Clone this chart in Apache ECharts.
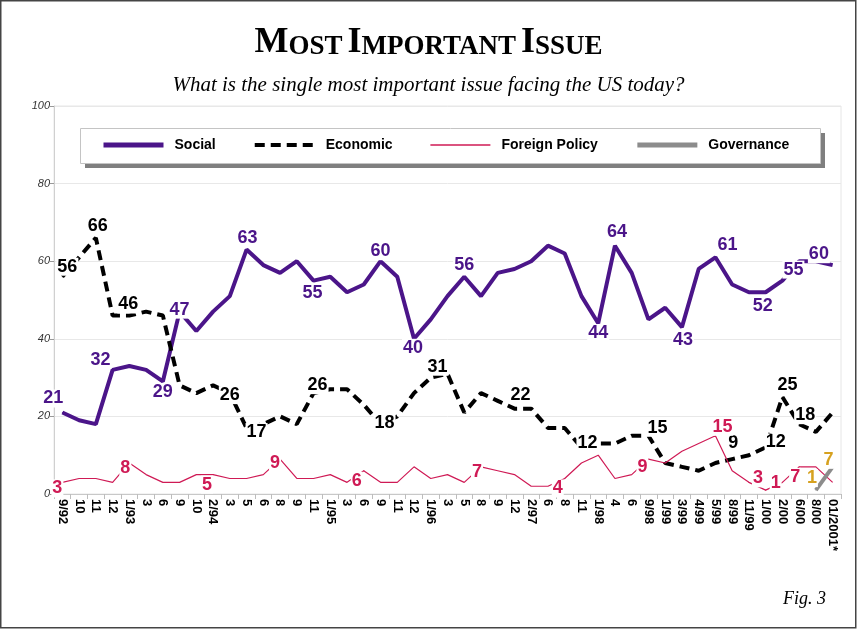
<!DOCTYPE html>
<html>
<head>
<meta charset="utf-8">
<script src="https://cdn.jsdelivr.net/npm/echarts@6/dist/echarts.min.js"></script>
<style>
  html, body { margin: 0; padding: 0; background: #fff; }
  #chart { width: 857px; height: 629px; }
</style>
</head>
<body>
<div id="chart"></div>
<script>
// Survey dates (month/year) along the horizontal axis
const categories = ['9/92','10','11','12','1/93','3','6','9','10','2/94','3','5','6','8','9','11',
  '1/95','3','6','9','11','12','1/96','3','5','8','9','12','2/97','6','8','11','1/98','4','6',
  '9/98','1/99','3/99','4/99','5/99','8/99','11/99','1/00','2/00','6/00','8/00','01/2001*'];

// Percent naming each kind of issue as the most important
const social = [21,19,18,32,33,32,29,47,42,47,51,63,59,57,60,55,56,52,54,60,56,40,45,51,56,51,57,58,
  60,64,62,51,44,64,57,45,48,43,58,61,54,52,52,55,60,60,59];
const economic = [56,61,66,46,46,47,46,28,26,28,26,17,18,20,18,26,27,27,23,18,20,26,30,31,21,26,24,22,
  22,17,17,12,13,13,15,15,8,7,6,8,9,10,12,25,18,16,21];
const foreignPolicy = [3,4,4,3,8,5,3,3,5,5,4,4,5,9,4,4,5,3,6,3,3,7,4,5,3,7,6,5,2,2,4,8,10,4,5,9,8,11,13,
  15,6,3,1,3,7,7,3];
const governance = [null,null,null,null,null,null,null,null,null,null,null,null,null,null,null,null,
  null,null,null,null,null,null,null,null,null,null,null,null,null,null,null,null,null,null,null,
  null,null,null,null,null,null,null,null,null,null,1,7];

// Which points carry a value label (index in the series)
const socialLabelIdx = [0,3,6,7,11,15,19,21,24,32,33,37,39,42,43,45];
const economicLabelIdx = [0,2,4,10,11,15,19,23,27,31,35,40,42,43,44];
const foreignLabelIdx = [0,4,9,13,18,25,30,35,39,41,42,44];
const governanceLabelIdx = [45,46];

// Label placement relative to its point, in pixels
const labelOffsets = {
  social: [[-9,-14],[-12,-10],[0,11],[0,-2],[1,-12],[-1,12],[0,-10],[-1,9],[0,-12],[0,10],[2,-14],
    [1,13],[12,-12],[-3,14],[11,-11],[3,-7]],
  economic: [[5,-10],[2,-12],[-1,-11],[0,2],[10,4],[4,-8],[4,-1],[-10,-7],[6,-14],[6,-4],[9,-8],
    [1,-16],[10,-5],[5,-12],[6,-9]],
  foreign: [[-5,6],[-4,5],[-6,10],[-5,4],[-7,10],[-4,5],[-7,10],[-6,8],[7,-9],[9,-4],[10,-7],[-4,10]],
  governance: [[-4,-12],[-4,-7]]
};

const FONT = '"Liberation Sans", Arial, Helvetica, sans-serif';
const SERIF = '"Liberation Serif", "Times New Roman", Times, serif';

function withLabels(values, idxList, offsets, color) {
  return values.map(function (v, i) {
    const k = idxList.indexOf(i);
    if (k < 0 || v === null) return v;
    return {
      value: v,
      symbol: 'circle',
      symbolSize: 1,
      label: {
        show: true,
        position: 'inside',
        offset: offsets[k],
        color: color,
        fontFamily: FONT,
        fontSize: 18,
        fontWeight: 'bold',
        backgroundColor: '#fff',
        padding: [0, 1]
      }
    };
  });
}

const PURPLE = '#4b1589';
const CRIMSON = '#cf1a55';
const GOLD = '#d6a11f';
const GREY = '#8c8c8c';

const chart = echarts.init(document.getElementById('chart'), null, { renderer: 'canvas' });

chart.setOption({
  animation: false,
  backgroundColor: '#fff',
  title: [
    {
      text: '{b|M}{s|OST} {b|I}{s|MPORTANT} {b|I}{s|SSUE}',
      left: 'center',
      top: 21,
      padding: 0,
      textStyle: {
        rich: {
          b: { fontFamily: SERIF, fontWeight: 'bold', fontSize: 36, color: '#000', verticalAlign: 'bottom', lineHeight: 40 },
          s: { fontFamily: SERIF, fontWeight: 'bold', fontSize: 27, color: '#000', verticalAlign: 'bottom', lineHeight: 40 }
        }
      }
    },
    {
      text: 'What is the single most important issue facing the US today?',
      left: 'center',
      top: 75,
      padding: 0,
      textStyle: { fontFamily: SERIF, fontStyle: 'italic', fontWeight: 'normal', fontSize: 21, color: '#000' }
    }
  ],
  legend: {
    left: 80,
    top: 128,
    z: 10,
    orient: 'horizontal',
    padding: [10, 26, 10, 21],
    itemGap: 37,
    itemWidth: 60,
    itemHeight: 14,
    itemStyle: { opacity: 0 },
    textStyle: { fontFamily: FONT, fontSize: 14, fontWeight: 'bold', color: '#000', padding: [0, 0, 0, 6] },
    data: [
      { name: 'Social', lineStyle: { width: 5 } },
      { name: 'Economic', lineStyle: { width: 4 } },
      { name: 'Foreign Policy', lineStyle: { width: 1.5 } },
      { name: 'Governance', lineStyle: { width: 5 } }
    ]
  },
  grid: {
    left: 54,
    right: 16,
    top: 106,
    bottom: 135,
    show: true,
    borderColor: '#e6e6e6',
    borderWidth: 1,
    backgroundColor: 'transparent',
    containLabel: false,
    outerBoundsMode: 'none'
  },
  xAxis: {
    type: 'category',
    data: categories,
    boundaryGap: true,
    axisLine: { show: true, lineStyle: { color: '#c8c8c8', width: 1 } },
    axisTick: { show: true, length: 5, lineStyle: { color: '#bdbdbd' } },
    axisLabel: {
      interval: 0,
      rotate: -90,
      margin: 5,
      color: '#000',
      fontFamily: FONT,
      fontSize: 13,
      fontWeight: 'bold'
    },
    splitLine: { show: false }
  },
  yAxis: {
    type: 'value',
    min: 0,
    max: 100,
    interval: 20,
    axisLine: { show: true, lineStyle: { color: '#d0d0d0' } },
    axisTick: { show: true, length: 4, lineStyle: { color: '#999' } },
    axisLabel: { color: '#333', fontFamily: FONT, fontSize: 11, fontStyle: 'italic', margin: 4 },
    splitLine: { show: true, lineStyle: { color: '#e8e8e8', width: 1 } }
  },
  series: [
    {
      name: 'Social',
      type: 'line',
      symbol: 'none',
      showAllSymbol: true,
      color: PURPLE,
      lineStyle: { color: PURPLE, width: 4 },
      emphasis: { disabled: true },
      data: withLabels(social, socialLabelIdx, labelOffsets.social, PURPLE)
    },
    {
      name: 'Economic',
      type: 'line',
      symbol: 'none',
      showAllSymbol: true,
      color: '#000',
      lineStyle: { color: '#000', width: 4, type: [10, 6] },
      emphasis: { disabled: true },
      data: withLabels(economic, economicLabelIdx, labelOffsets.economic, '#000')
    },
    {
      name: 'Foreign Policy',
      type: 'line',
      symbol: 'none',
      showAllSymbol: true,
      color: CRIMSON,
      lineStyle: { color: CRIMSON, width: 1.2 },
      emphasis: { disabled: true },
      data: withLabels(foreignPolicy, foreignLabelIdx, labelOffsets.foreign, CRIMSON)
    },
    {
      name: 'Governance',
      type: 'line',
      symbol: 'none',
      showAllSymbol: true,
      color: GREY,
      lineStyle: { color: GREY, width: 4 },
      emphasis: { disabled: true },
      data: withLabels(governance, governanceLabelIdx, labelOffsets.governance, GOLD)
    }
  ],
  graphic: [
    // legend panel with its drop shadow
    {
      type: 'rect', z: 8, silent: true,
      shape: { x: 85, y: 133, width: 740, height: 35 },
      style: { fill: '#7f7f7f' }
    },
    {
      type: 'rect', z: 9, silent: true,
      shape: { x: 80.5, y: 128.5, width: 740, height: 35 },
      style: { fill: '#fff', stroke: '#c4c4c4', lineWidth: 1 }
    },
    // page frame
    {
      type: 'rect', z: 100, silent: true,
      shape: { x: 0.75, y: 0.75, width: 855, height: 627 },
      style: { fill: 'none', stroke: '#444', lineWidth: 1.5 }
    },
    {
      type: 'text',
      right: 31, top: 590,
      style: { text: 'Fig. 3', font: 'italic 18px ' + SERIF, fill: '#000' }
    }
  ]
});
</script>
</body>
</html>
